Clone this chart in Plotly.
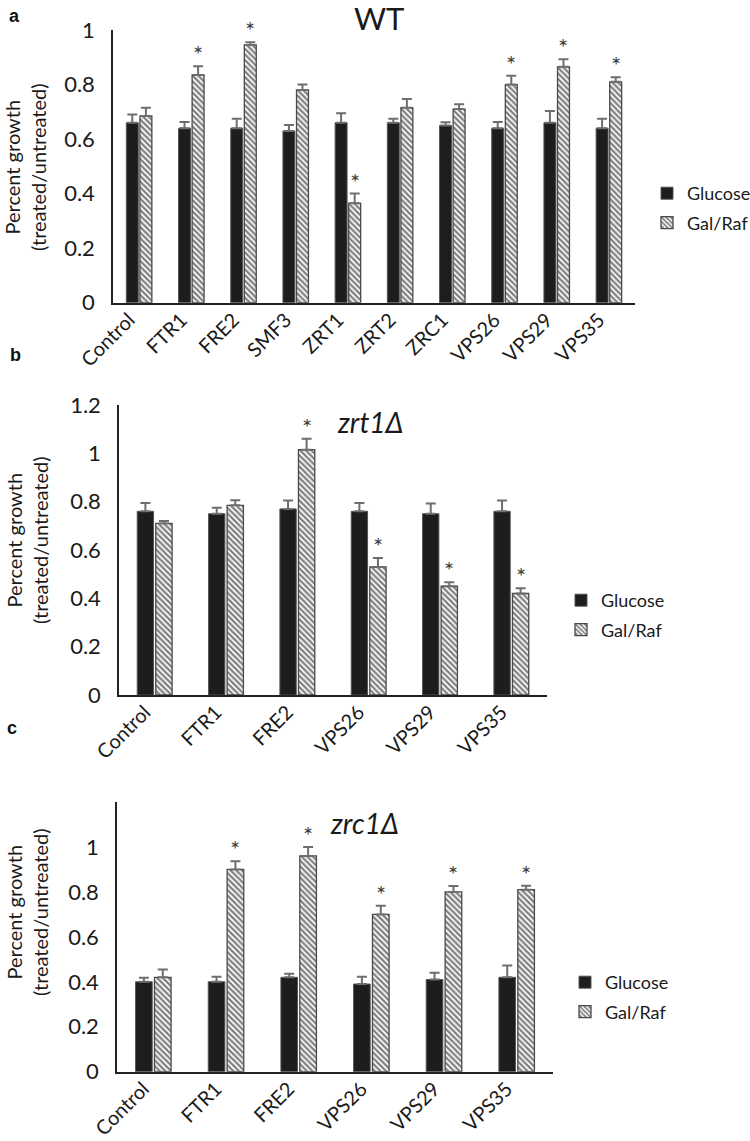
import plotly.graph_objects as go

W, H = 750, 1141
FONT = "Lato"

# ---------------- data ----------------
cats_a = ["Control", "FTR1", "FRE2", "SMF3", "ZRT1", "ZRT2", "ZRC1", "VPS26", "VPS29", "VPS35"]
glu_a = [0.66, 0.64, 0.64, 0.63, 0.66, 0.66, 0.65, 0.64, 0.66, 0.64]
glu_a_err = [0.03, 0.023, 0.035, 0.022, 0.035, 0.015, 0.012, 0.023, 0.043, 0.035]
gal_a = [0.685, 0.835, 0.945, 0.78, 0.365, 0.715, 0.71, 0.80, 0.865, 0.81]
gal_a_err = [0.03, 0.032, 0.01, 0.02, 0.035, 0.032, 0.018, 0.032, 0.028, 0.017]
sig_a = [0, 1, 1, 0, 1, 0, 0, 1, 1, 1]

cats_b = ["Control", "FTR1", "FRE2", "VPS26", "VPS29", "VPS35"]
glu_b = [0.76, 0.75, 0.77, 0.76, 0.75, 0.76]
glu_b_err = [0.034, 0.025, 0.035, 0.034, 0.042, 0.045]
gal_b = [0.71, 0.785, 1.015, 0.53, 0.45, 0.42]
gal_b_err = [0.01, 0.021, 0.045, 0.037, 0.017, 0.022]
sig_b = [0, 0, 1, 1, 1, 1]

cats_c = ["Control", "FTR1", "FRE2", "VPS26", "VPS29", "VPS35"]
glu_c = [0.40, 0.40, 0.42, 0.39, 0.41, 0.42]
glu_c_err = [0.018, 0.022, 0.016, 0.032, 0.03, 0.052]
gal_c = [0.42, 0.90, 0.96, 0.70, 0.80, 0.81]
gal_c_err = [0.035, 0.036, 0.04, 0.038, 0.026, 0.017]
sig_c = [0, 1, 1, 1, 1, 1]

series_names = ["Glucose", "Gal/Raf"]
titles = ["WT", "<i>zrt1Δ</i>", "<i>zrc1Δ</i>"]
panel_letters = ["a", "b", "c"]
ytitle = "Percent growth<br>(treated/untreated)"

# ---------------- layout geometry (pixels) ----------------
# (x_left, x_right, y_top, y_bottom) of each plot area
boxes = [(113, 635, 30, 302.7), (119, 547, 405, 695), (117, 553, 802, 1071.7)]
yranges = [[0, 1], [0, 1.2], [0, 1.2]]
yticks = [[0, 0.2, 0.4, 0.6, 0.8, 1], [0, 0.2, 0.4, 0.6, 0.8, 1, 1.2], [0, 0.2, 0.4, 0.6, 0.8, 1]]
ytick_text = [["0", "0.2", "0.4", "0.6", "0.8", "1"],
              ["0", "0.2", "0.4", "0.6", "0.8", "1", "1.2"],
              ["0", "0.2", "0.4", "0.6", "0.8", "1"]]
title_pos = [(379, 18, "center"), (335, 422, "left"), (328, 823, "left")]
title_size = [31, 28, 28]
letter_pos = [(14, 16), (15, 355), (12, 728)]
legend_pos = [(647, 208), (561, 615), (565, 997)]
ytitle_pos = [(25, 167), (27, 540), (27, 912)]

BARGAP = 0.48
BARGROUPGAP = 0.12

panels = [
    (cats_a, glu_a, glu_a_err, gal_a, gal_a_err, sig_a),
    (cats_b, glu_b, glu_b_err, gal_b, gal_b_err, sig_b),
    (cats_c, glu_c, glu_c_err, gal_c, gal_c_err, sig_c),
]

fig = go.Figure()
annotations = []

for i, (cats, glu, glu_err, gal, gal_err, sig) in enumerate(panels):
    k = "" if i == 0 else str(i + 1)
    xa, ya = "x" + k, "y" + k
    leg = "legend" + k
    fig.add_trace(go.Bar(
        x=cats, y=glu, name=series_names[0], xaxis=xa, yaxis=ya, legend=leg,
        legendgroup="glu" + k,
        marker=dict(color="#1e1c1c", line=dict(color="#555555", width=1)),
        error_y=dict(type="data", array=glu_err, arrayminus=[0] * len(glu),
                     symmetric=False, color="#6e6e6e", thickness=2, width=5),
    ))
    fig.add_trace(go.Bar(
        x=cats, y=gal, name=series_names[1], xaxis=xa, yaxis=ya, legend=leg,
        legendgroup="gal" + k,
        marker=dict(color="white", line=dict(color="#4a4a4a", width=1.3),
                    pattern=dict(shape="\\", fgcolor="#000000", bgcolor="white",
                                 size=4, solidity=0.55)),
        error_y=dict(type="data", array=gal_err, arrayminus=[0] * len(gal),
                     symmetric=False, color="#6e6e6e", thickness=2, width=5),
    ))
    x0, x1, yt, yb = boxes[i]
    catw = (x1 - x0) / len(cats)
    shift = catw * (1 - BARGAP) / 4
    for c, v, e, s in zip(cats, gal, gal_err, sig):
        if s:
            annotations.append(dict(
                x=c, y=v + e, xref=xa, yref=ya, text="*", showarrow=False,
                xshift=shift, yshift=-4, yanchor="bottom",
                font=dict(family=FONT, size=24, color="#3c3c3c")))

layout = dict(
    width=W, height=H, margin=dict(l=0, r=0, t=0, b=0, autoexpand=False),
    paper_bgcolor="white", plot_bgcolor="white",
    barmode="group", bargap=BARGAP, bargroupgap=BARGROUPGAP,
    font=dict(family=FONT, size=20, color="#1a1a1a"),
)

for i in range(3):
    k = "" if i == 0 else str(i + 1)
    x0, x1, yt, yb = boxes[i]
    layout["xaxis" + k] = dict(
        domain=[x0 / W, x1 / W], anchor="y" + k, automargin=False,
        showline=True, linecolor="#222222", linewidth=1.5,
        ticks="", tickangle=-45, ticklabelstandoff=-4, ticklabelshift=-10,
        tickfont=dict(family=FONT, size=20, color="#1a1a1a"),
        showgrid=False, zeroline=False, fixedrange=True,
    )
    layout["yaxis" + k] = dict(
        domain=[1 - yb / H, 1 - yt / H], anchor="x" + k, automargin=False,
        range=yranges[i], tickvals=yticks[i], ticktext=ytick_text[i],
        showline=True, linecolor="#222222", linewidth=1.5,
        ticks="", ticklabelstandoff=12,
        tickfont=dict(family=FONT, size=22, color="#1a1a1a"),
        showgrid=False, zeroline=False, fixedrange=True,
    )
    lx, ly = legend_pos[i]
    layout["legend" + k] = dict(
        x=lx / W, y=1 - ly / H, xanchor="left", yanchor="middle",
        font=dict(family=FONT, size=18, color="#1a1a1a"),
        bgcolor="rgba(0,0,0,0)", itemwidth=30, tracegroupgap=3,
        traceorder="grouped",
    )
    tx, ty, anc = title_pos[i]
    annotations.append(dict(
        x=tx / W, y=1 - ty / H, xref="paper", yref="paper", text=titles[i],
        showarrow=False, xanchor=anc, yanchor="middle",
        font=dict(family=FONT, size=title_size[i], color="#1a1a1a")))
    px_, py_ = letter_pos[i]
    annotations.append(dict(
        x=px_ / W, y=1 - py_ / H, xref="paper", yref="paper",
        text="<b>" + panel_letters[i] + "</b>",
        showarrow=False, xanchor="center", yanchor="middle",
        font=dict(family="Liberation Sans", size=18, color="#111111")))
    qx, qy = ytitle_pos[i]
    annotations.append(dict(
        x=qx / W, y=1 - qy / H, xref="paper", yref="paper", text=ytitle,
        showarrow=False, xanchor="center", yanchor="middle", textangle=-90,
        font=dict(family=FONT, size=20, color="#1a1a1a")))

layout["annotations"] = annotations
fig.update_layout(**layout)
fig.write_html("out.html")
